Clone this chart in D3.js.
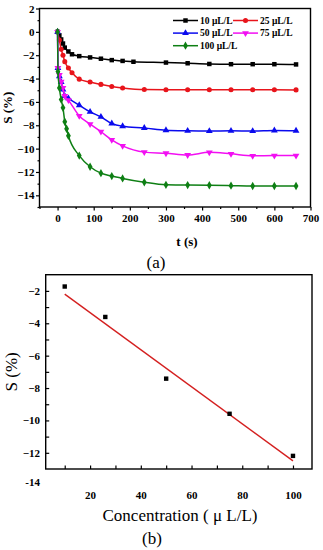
<!DOCTYPE html>
<html>
<head>
<meta charset="utf-8">
<script src="https://cdn.jsdelivr.net/npm/d3@7"></script>
<style>
  body { margin: 0; background: #fff; }
  svg { display: block; }
  text { font-family: "Liberation Serif", "Times New Roman", serif; }
</style>
</head>
<body>
<script>
// page size
var width = 323;
var height = 550;

// (a) response curves, time in s, S in %
var t10 = [0, 5, 10, 15, 20, 30, 40, 60, 90, 120, 150, 180, 210, 300, 360, 420, 480, 540, 600, 660];
var s10 = [0, -0.3, -0.65, -1.0, -1.35, -1.68, -1.92, -2.08, -2.19, -2.3, -2.42, -2.49, -2.56, -2.63, -2.69, -2.75, -2.77, -2.77, -2.77, -2.79];
var t25 = [0, 5, 10, 15, 20, 30, 40, 60, 90, 120, 150, 180, 240, 300, 360, 420, 480, 540, 600, 660];
var s25 = [0, -0.7, -1.5, -2.0, -2.55, -3.1, -3.5, -4.05, -4.3, -4.5, -4.68, -4.8, -4.94, -4.95, -4.96, -4.96, -4.96, -4.96, -4.96, -4.97];
var t50 = [0, 1, 5, 10, 15, 20, 30, 60, 90, 120, 150, 180, 240, 300, 360, 420, 480, 540, 600, 660];
var s50 = [0, -3.1, -3.8, -4.3, -4.95, -5.5, -5.7, -6.28, -6.85, -7.28, -7.85, -8.08, -8.23, -8.42, -8.48, -8.5, -8.48, -8.5, -8.45, -8.47];
var t75 = [0, 1, 5, 10, 15, 20, 30, 60, 90, 120, 150, 180, 240, 300, 360, 420, 480, 540, 600, 660];
var s75 = [0, -3.1, -3.7, -4.28, -4.8, -5.5, -5.85, -7.2, -7.9, -8.55, -9.25, -9.77, -10.3, -10.4, -10.55, -10.32, -10.45, -10.62, -10.6, -10.6];
var t100 = [0, 1, 5, 10, 15, 20, 25, 30, 60, 90, 120, 150, 180, 240, 300, 360, 420, 480, 540, 600, 660];
var s100 = [0, -3.4, -4.8, -5.8, -6.5, -7.7, -8.3, -8.9, -10.6, -11.55, -12.1, -12.35, -12.55, -12.88, -13.1, -13.12, -13.14, -13.17, -13.2, -13.2, -13.2];

var seriesNames = ["10 \u03bcL/L", "25 \u03bcL/L", "50 \u03bcL/L", "75 \u03bcL/L", "100 \u03bcL/L"];
var seriesColors = ["#000000", "#e8141b", "#0a0aee", "#f20ff2", "#0e7f14"];
var seriesSymbols = [d3.symbolSquare, d3.symbolCircle, d3.symbolTriangle, "down", d3.symbolDiamond];
var seriesT = [t10, t25, t50, t75, t100];
var seriesS = [s10, s25, s50, s75, s100];

var xTicksA = [0, 100, 200, 300, 400, 500, 600, 700];
var yTicksA = [2, 0, -2, -4, -6, -8, -10, -12, -14];

// (b) calibration
var concX = [10, 26, 50, 75, 100];
var concS = [-1.73, -3.61, -7.42, -9.59, -12.19];
var fitX = [10, 100];
var fitS = [-2.2, -12.5];
var xTicksB = [20, 40, 60, 80, 100];
var yTicksB = [-2, -4, -6, -8, -10, -12];

var svg = d3.select("body").append("svg")
    .attr("width", width)
    .attr("height", height);

function symbolPath(sym, size) {
    if (sym === "down") {
        return d3.symbol().type(d3.symbolTriangle).size(size)();
    }
    return d3.symbol().type(sym).size(size)();
}

// ---------- chart (a) ----------
var xA = d3.scaleLinear().domain([-50, 700]).range([39.5, 310.5]);
var yA = d3.scaleLinear().domain([-15, 2]).range([207, 8.5]);

var gA = svg.append("g");

// minor ticks
gA.append("g")
    .attr("transform", "translate(0," + yA(-15) + ")")
    .call(d3.axisBottom(xA).tickValues(d3.range(-50, 701, 100)).tickSize(2).tickFormat(""))
    .call(function(g){ g.select(".domain").remove(); });
gA.append("g")
    .attr("transform", "translate(" + xA(-50) + ",0)")
    .call(d3.axisLeft(yA).tickValues(d3.range(-15, 2, 2)).tickSize(2).tickFormat(""))
    .call(function(g){ g.select(".domain").remove(); });

// major ticks
gA.append("g")
    .attr("transform", "translate(0," + yA(-15) + ")")
    .call(d3.axisBottom(xA).tickValues(xTicksA).tickSize(3.5).tickPadding(4))
    .call(function(g){ g.select(".domain").remove(); });
gA.append("g")
    .attr("transform", "translate(" + xA(-50) + ",0)")
    .call(d3.axisLeft(yA).tickValues(yTicksA).tickSize(3.5).tickPadding(1.5))
    .call(function(g){ g.select(".domain").remove(); });

gA.selectAll(".tick text")
    .attr("font-family", "Liberation Serif, Times New Roman, serif")
    .attr("font-size", 11)
    .attr("font-weight", "bold")
    .attr("fill", "#000");
gA.selectAll(".tick line").attr("stroke", "#000").attr("stroke-width", 1.2);

gA.append("rect")
    .attr("x", xA(-50)).attr("y", yA(2))
    .attr("width", xA(700) - xA(-50)).attr("height", yA(-15) - yA(2))
    .attr("fill", "none").attr("stroke", "#000").attr("stroke-width", 1.4);

var lineA = d3.line()
    .x(function(d){ return xA(d[0]); })
    .y(function(d){ return yA(d[1]); })
    .curve(d3.curveMonotoneX);

seriesNames.forEach(function(name, i){
    var pts = seriesT[i].map(function(t, j){ return [t, seriesS[i][j]]; });
    gA.append("path")
        .datum(pts)
        .attr("d", lineA)
        .attr("fill", "none")
        .attr("stroke", seriesColors[i])
        .attr("stroke-width", 1.5);
    gA.selectAll(".m" + i)
        .data(pts)
        .enter()
        .append("path")
        .attr("d", symbolPath(seriesSymbols[i], 20))
        .attr("transform", function(d){
            return "translate(" + xA(d[0]) + "," + yA(d[1]) + ")" + (seriesSymbols[i] === "down" ? " rotate(180)" : "");
        })
        .attr("fill", seriesColors[i]);
});

// legend
var legend = gA.append("g");
seriesNames.forEach(function(name, i){
    var col = i % 2, row = Math.floor(i / 2);
    var lx = 173 + col * 60, ly = 20.5 + row * 12.6;
    legend.append("line")
        .attr("x1", lx).attr("x2", lx + 25)
        .attr("y1", ly).attr("y2", ly)
        .attr("stroke", seriesColors[i]).attr("stroke-width", 1.5);
    legend.append("path")
        .attr("d", symbolPath(seriesSymbols[i], 20))
        .attr("transform", "translate(" + (lx + 12.5) + "," + ly + ")" + (seriesSymbols[i] === "down" ? " rotate(180)" : ""))
        .attr("fill", seriesColors[i]);
    legend.append("text")
        .attr("x", lx + 27).attr("y", ly + 3.3)
        .attr("font-size", 9.5).attr("font-weight", "bold")
        .text(name);
});

svg.append("text")
    .attr("transform", "translate(12," + ((yA(2) + yA(-15)) / 2) + ") rotate(-90)")
    .attr("text-anchor", "middle")
    .attr("font-size", 13).attr("font-weight", "bold")
    .text("S (%)");
svg.append("text")
    .attr("x", 187).attr("y", 246)
    .attr("text-anchor", "middle")
    .attr("font-size", 13).attr("font-weight", "bold")
    .text("t (s)");
svg.append("text")
    .attr("x", 156).attr("y", 268)
    .attr("text-anchor", "middle")
    .attr("font-size", 17)
    .text("(a)");

// ---------- chart (b) ----------
var xB = d3.scaleLinear().domain([2.5, 107.5]).range([45.7, 312]);
var yB = d3.scaleLinear().domain([-13, -1]).range([469, 274.7]);

var gB = svg.append("g");

gB.append("g")
    .attr("transform", "translate(0," + yB(-13) + ")")
    .call(d3.axisBottom(xB).tickValues(d3.range(10, 101, 10)).tickSize(-3.5).tickFormat(""))
    .call(function(g){ g.select(".domain").remove(); });
gB.append("g")
    .attr("transform", "translate(" + xB(2.5) + ",0)")
    .call(d3.axisLeft(yB).tickValues(d3.range(-12, -1, 1)).tickSize(-3.5).tickFormat(""))
    .call(function(g){ g.select(".domain").remove(); });

gB.append("g")
    .attr("transform", "translate(0," + yB(-13) + ")")
    .call(d3.axisBottom(xB).tickValues(xTicksB).tickSize(0).tickPadding(22))
    .call(function(g){ g.select(".domain").remove(); });
gB.append("g")
    .attr("transform", "translate(" + xB(2.5) + ",0)")
    .call(d3.axisLeft(yB).tickValues(yTicksB).tickSize(0).tickPadding(5.7))
    .call(function(g){ g.select(".domain").remove(); });

gB.selectAll(".tick text")
    .attr("font-family", "Liberation Serif, Times New Roman, serif")
    .attr("font-size", 11)
    .attr("font-weight", "bold")
    .attr("fill", "#000");
gB.selectAll(".tick line").attr("stroke", "#000").attr("stroke-width", 1.2);

// stray -14 label below the frame
gB.append("text")
    .attr("x", xB(2.5) - 5.7).attr("y", yB(-14) + 0.5)
    .attr("text-anchor", "end")
    .attr("font-size", 11).attr("font-weight", "bold")
    .text("-14");

gB.append("rect")
    .attr("x", xB(2.5)).attr("y", yB(-1))
    .attr("width", xB(107.5) - xB(2.5)).attr("height", yB(-13) - yB(-1))
    .attr("fill", "none").attr("stroke", "#000").attr("stroke-width", 1.4);

gB.append("line")
    .attr("x1", xB(fitX[0])).attr("y1", yB(fitS[0]))
    .attr("x2", xB(fitX[1])).attr("y2", yB(fitS[1]))
    .attr("stroke", "#d42020").attr("stroke-width", 1.4);

gB.selectAll(".pt")
    .data(concX)
    .enter()
    .append("rect")
    .attr("x", function(d){ return xB(d) - 2.2; })
    .attr("y", function(d, i){ return yB(concS[i]) - 2.2; })
    .attr("width", 4.4).attr("height", 4.4)
    .attr("fill", "#000");

svg.append("text")
    .attr("transform", "translate(17," + ((yB(-1) + yB(-13)) / 2) + ") rotate(-90)")
    .attr("text-anchor", "middle")
    .attr("font-size", 17)
    .text("S (%)");
svg.append("text")
    .attr("x", 180).attr("y", 521)
    .attr("text-anchor", "middle")
    .attr("font-size", 17)
    .text("Concentration ( \u03bc L/L)");
svg.append("text")
    .attr("x", 152).attr("y", 544)
    .attr("text-anchor", "middle")
    .attr("font-size", 17)
    .text("(b)");
</script>
</body>
</html>
